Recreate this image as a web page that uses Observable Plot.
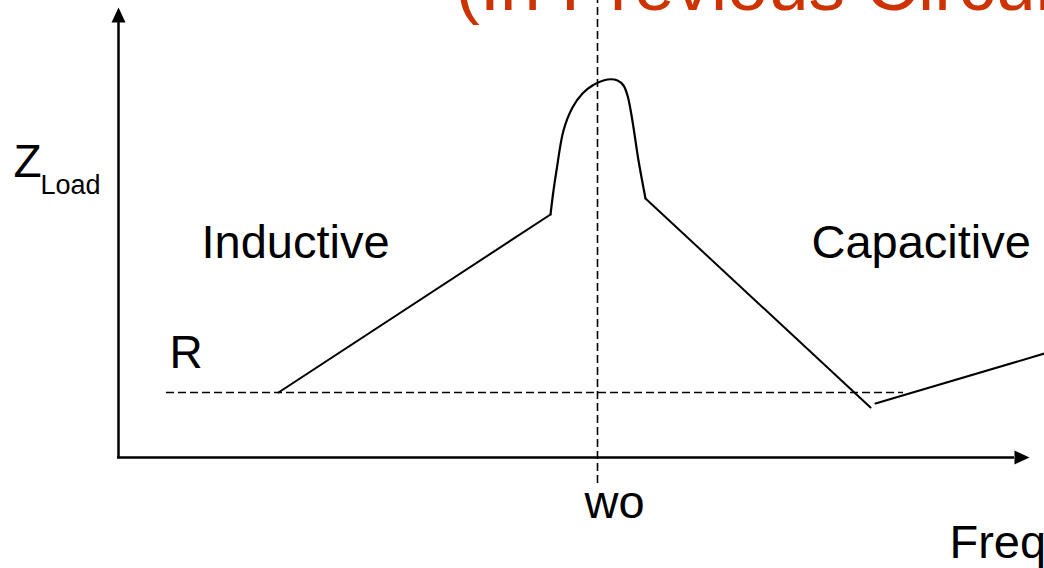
<!DOCTYPE html>
<html>
<head>
<meta charset="utf-8">
<script src="https://cdn.jsdelivr.net/npm/d3@7"></script>
<script src="https://cdn.jsdelivr.net/npm/@observablehq/plot@0.6"></script>
<style>
  html, body { margin: 0; padding: 0; background: #fff; }
  #chart svg { display: block; }
</style>
</head>
<body>
<div id="chart"></div>
<script>
// Frequency (x) and impedance (z) in diagram units; origin where the axes meet.
const rampUpFreq = [160, 432];
const rampUpZ = [65, 243];
const peakFreq = [432, 435, 438, 445, 454, 464, 474, 489, 499, 505, 509, 512, 515, 520, 527];
const peakZ    = [243, 267, 287, 327, 350, 364, 372, 378, 377, 372, 362, 348, 330, 297, 259];
const rampDownFreq = [527, 752];
const rampDownZ = [259, 50];
const tailFreq = [757, 926];
const tailZ = [54, 104];

const resonanceFreq = 479;   // wo
const resistanceZ = 65;      // R
const rLineFreq = [48, 785];

const labels = [
  {text: "Inductive", x: 83, z: 200, size: 47},
  {text: "Capacitive", x: 693, z: 200, size: 47},
  {text: "R", x: 51, z: 90, size: 46},
  {text: "wo", x: 466, z: -60, size: 47},
  {text: "Freq", x: 831, z: -100, size: 47},
  {text: "Z", x: -105, z: 281, size: 46},
  {text: "Load", x: -78, z: 264, size: 27}
];
const titleText = "(In Previous Circuit)";
const titlePos = {x: 337, z: 448};

const xAxisEnd = 896;
const yAxisEnd = 435;

const toRows = (xs, zs) => xs.map((x, i) => ({x, z: zs[i]}));

const arrowSymbol = {
  draw(ctx) {
    ctx.moveTo(0, -15);
    ctx.lineTo(7, 0);
    ctx.lineTo(-7, 0);
    ctx.closePath();
  }
};

const chart = Plot.plot({
  width: 1044,
  height: 568,
  margin: 0,
  x: {domain: [-118, 926], range: [0, 1044], axis: null},
  y: {domain: [-111, 457], range: [568, 0], axis: null},
  style: {fontFamily: "'Liberation Sans', Arial, sans-serif", background: "#fff"},
  marks: [
    // dashed reference lines
    Plot.ruleX([resonanceFreq], {y1: -26, y2: 457, stroke: "#000", strokeWidth: 1.6, strokeDasharray: "8,4"}),
    Plot.ruleY([resistanceZ], {x1: rLineFreq[0], x2: rLineFreq[1], stroke: "#000", strokeWidth: 1.6, strokeDasharray: "8,4"}),
    // axes
    Plot.ruleX([0], {y1: 0, y2: yAxisEnd, stroke: "#000", strokeWidth: 2.5}),
    Plot.ruleY([0], {x1: -1, x2: xAxisEnd, stroke: "#000", strokeWidth: 2.5}),
    Plot.dot([{x: 0, z: yAxisEnd}], {x: "x", y: "z", symbol: arrowSymbol, r: 5, fill: "#000", stroke: null}),
    Plot.dot([{x: xAxisEnd, z: 0}], {x: "x", y: "z", symbol: arrowSymbol, r: 5, rotate: 90, fill: "#000", stroke: null}),
    // impedance curve
    Plot.line(toRows(rampUpFreq, rampUpZ), {x: "x", y: "z", stroke: "#000", strokeWidth: 2}),
    Plot.line(toRows(peakFreq, peakZ), {x: "x", y: "z", curve: "catmull-rom", stroke: "#000", strokeWidth: 2.2}),
    Plot.line(toRows(rampDownFreq, rampDownZ), {x: "x", y: "z", stroke: "#000", strokeWidth: 2}),
    Plot.line(toRows(tailFreq, tailZ), {x: "x", y: "z", stroke: "#000", strokeWidth: 2}),
    // labels
    Plot.text(labels, {x: "x", y: "z", text: "text", fontSize: d => d.size, textAnchor: "start", lineAnchor: "bottom", fill: "#000"}),
    Plot.text([titlePos], {x: "x", y: "z", text: () => titleText, fontSize: 73, textAnchor: "start", lineAnchor: "bottom", fill: "#cc3300"})
  ]
});
document.getElementById("chart").appendChild(chart);
</script>
</body>
</html>
